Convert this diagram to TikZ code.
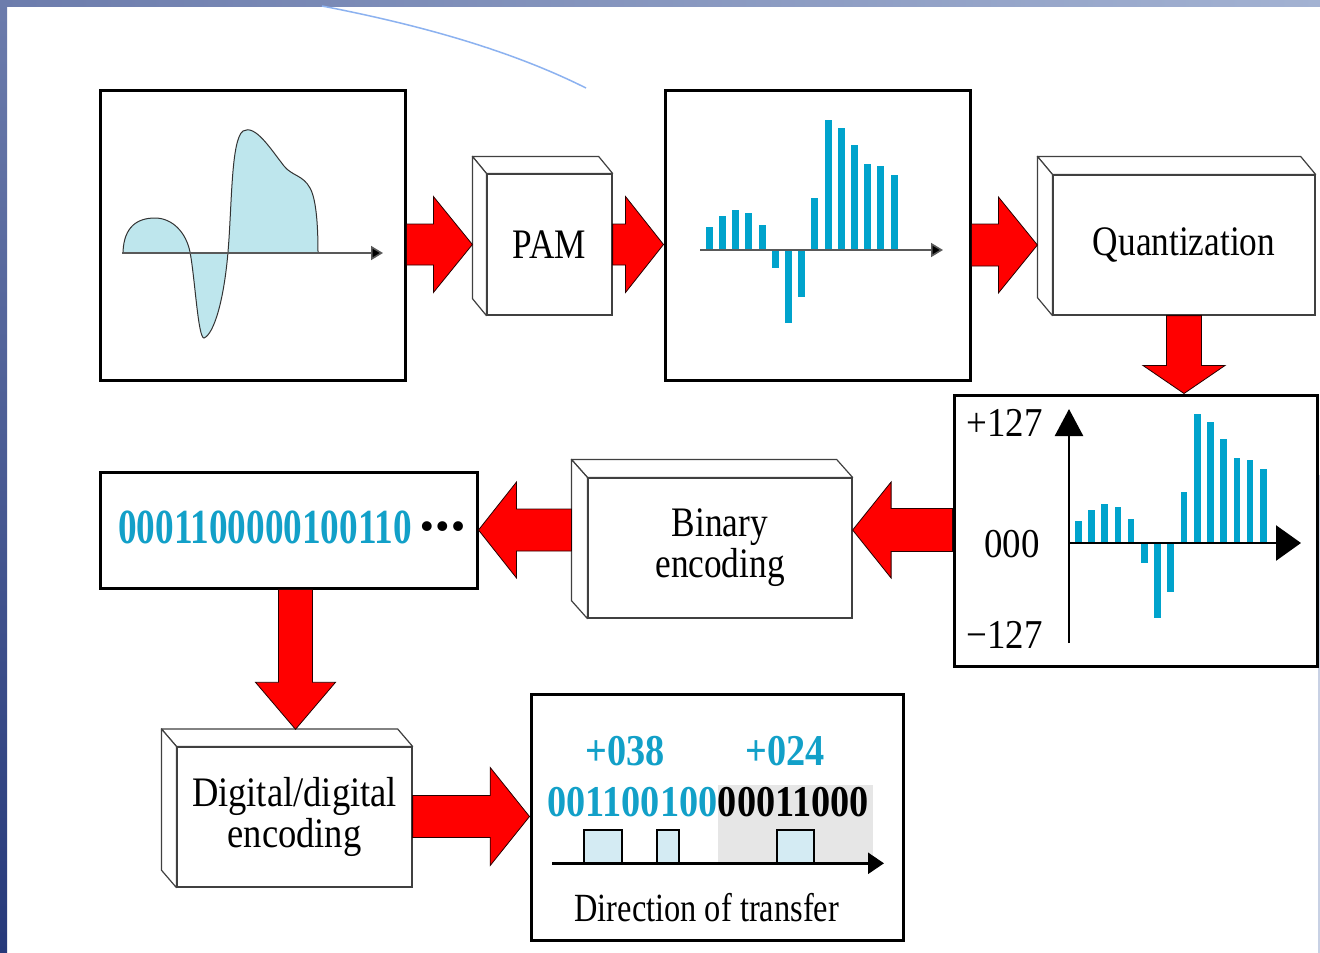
\documentclass[tikz,border=0pt]{standalone}
\usepackage{fontspec}
\setmainfont{Liberation Serif}
\newfontfamily\slabfont{Liberation Serif}[FakeStretch=0.84]
\newfontfamily\wideslabfont{Liberation Serif}[FakeStretch=0.87]
\newfontfamily\axisfont{Liberation Serif}[FakeStretch=0.90]
\newfontfamily\bitfont{Liberation Serif}[FakeStretch=0.76]
\newfontfamily\codefont{Liberation Serif}[FakeStretch=0.87]
\newfontfamily\capfont{Liberation Serif}[FakeStretch=0.81]
\usetikzlibrary{arrows.meta,calc}

\definecolor{barblue}{RGB}{0,163,204}
\definecolor{bitblue}{RGB}{18,160,200}
\definecolor{wavefill}{RGB}{190,230,237}
\definecolor{pulsefill}{RGB}{212,235,243}
\definecolor{bandtop}{RGB}{108,124,172}
\definecolor{bandbot}{RGB}{38,57,122}
\definecolor{bandright}{RGB}{163,178,210}
\definecolor{swoosh}{RGB}{140,178,240}
\definecolor{shadegray}{RGB}{230,230,230}

\tikzset{
  frame/.style={draw=black, line width=3pt, fill=white, inner sep=0pt},
  slabface/.style={draw=black!75, line width=1.2pt, fill=white, inner sep=0pt,
    font=\slabfont\fontsize{42}{41}\selectfont, align=center},
  slabedge/.style={draw=black!75, line width=1.2pt, fill=white, line join=round},
  redarrow/.style={fill=red, draw=black!85!red, line width=0.8pt, line join=miter},
  bar/.style={fill=barblue},
  thinaxis/.style={draw=black!65, line width=1.6pt, -{Triangle[length=12pt,width=14pt,fill=black]}},
}

% 3D slab: front face node plus top and left faces
% #1 name, #2 centre, #3 width, #4 height, #5 depth x, #6 depth y, #7 text
\newcommand\slab[7]{%
  \node[slabface, minimum width=#3, minimum height=#4] (#1) at (#2) {#7};
  \draw[slabedge] (#1.north west) -- ++(-#5,-#6) -- ($(#1.north east)+(-#5,-#6)$)
     -- (#1.north east) -- cycle;
  \draw[slabedge] (#1.north west) -- ++(-#5,-#6) -- ($(#1.south west)+(-#5,-#6)$)
     -- (#1.south west) -- cycle;
  \coordinate (#1-back) at ($(#1.west)+(-#5,0)$);
}

% block arrows: #1 start, #2 tip, #3 shaft half width, #4 head half width, #5 head length
\newcommand\rightarrowblock[5]{%
  \path[redarrow] let \p1=(#1), \p2=(#2) in
    (\x1,\y2+#3) -- (\x2-#5,\y2+#3) -- (\x2-#5,\y2+#4) -- (\x2,\y2)
    -- (\x2-#5,\y2-#4) -- (\x2-#5,\y2-#3) -- (\x1,\y2-#3) -- cycle;
}
\newcommand\leftarrowblock[5]{%
  \path[redarrow] let \p1=(#1), \p2=(#2) in
    (\x1,\y2+#3) -- (\x2+#5,\y2+#3) -- (\x2+#5,\y2+#4) -- (\x2,\y2)
    -- (\x2+#5,\y2-#4) -- (\x2+#5,\y2-#3) -- (\x1,\y2-#3) -- cycle;
}
\newcommand\downarrowblock[5]{%
  \path[redarrow] let \p1=(#1), \p2=(#2) in
    (\x2-#3,\y1) -- (\x2-#3,\y2+#5) -- (\x2-#4,\y2+#5) -- (\x2,\y2)
    -- (\x2+#4,\y2+#5) -- (\x2+#3,\y2+#5) -- (\x2+#3,\y1) -- cycle;
}

\begin{document}
\begin{tikzpicture}[x=1pt, y=-1pt]
\useasboundingbox (0,0) rectangle (1320,953);
\fill[white] (0,0) rectangle (1320,953);

% slide decoration
\shade[top color=bandtop, bottom color=bandbot] (0,0) rectangle (7,953);
\shade[left color=bandtop, right color=bandright] (0,0) rectangle (1320,6);
\draw[swoosh, line width=1.5pt] (322,6) .. controls (420,25) and (510,50) .. (586,88);
\draw[bandright!60, line width=1.2pt] (1319,475) -- (1319,953);

% ---------- analog signal ----------
\node[frame, minimum width=305, minimum height=290] (analog) at (252.5,235) {};
\fill[wavefill] (123,252) .. controls (124,226) and (138,218) .. (155,218)
  .. controls (172,218) and (186,232) .. (190,252)
  .. controls (195,278) and (198,338) .. (204,338)
  .. controls (214,334) and (224,300) .. (228,252)
  .. controls (232,205) and (231,140) .. (243,131)
  .. controls (255,124) and (270,148) .. (284,166)
  .. controls (292,176) and (303,175) .. (310,188)
  .. controls (317,200) and (318,232) .. (318,252) -- cycle;
\draw[black!80, line width=1pt] (123,252) .. controls (124,226) and (138,218) .. (155,218)
  .. controls (172,218) and (186,232) .. (190,252)
  .. controls (195,278) and (198,338) .. (204,338)
  .. controls (214,334) and (224,300) .. (228,252)
  .. controls (232,205) and (231,140) .. (243,131)
  .. controls (255,124) and (270,148) .. (284,166)
  .. controls (292,176) and (303,175) .. (310,188)
  .. controls (317,200) and (318,232) .. (318,252);
\coordinate (anaxis) at (122,253);
\coordinate (anaxisend) at (383,253);
\draw[thinaxis] (anaxis) -- (anaxisend);

% ---------- PAM ----------
\slab{pam}{549.5,244.5}{125}{141}{14}{17}{PAM}

% ---------- sampled signal ----------
\node[frame, minimum width=305, minimum height=290] (samples) at (817.5,235) {};
\foreach \v [count=\i from 0] in {227.3,216,210,213,225,268.3,323.3,297.3,198.3,120,128.3,145,164,166,175}
  \fill[bar] ({709.3+13.2*\i-3.5},250) rectangle ({709.3+13.2*\i+3.5},\v);
\coordinate (saxis) at (700,250);
\coordinate (saxisend) at (943,250);
\draw[thinaxis] (saxis) -- (saxisend);

% ---------- Quantization ----------
\slab{quant}{1184,245}{262}{140}{15}{18}{Quantization}

% ---------- quantized signal ----------
\node[frame, minimum width=363, minimum height=271] (levels) at (1135.5,530.5) {};
\foreach \v [count=\i from 0] in {521,510,504,506.7,519.3,563.3,617.7,591.7,491.7,414,422.3,439,457.7,460.3,469}
  \fill[bar] ({1078.3+13.21*\i-3.3},543) rectangle ({1078.3+13.21*\i+3.3},\v);
\coordinate (qorigin) at (1069,543);
\coordinate (qbottom) at (1069,643);
\coordinate (qtop) at (1069,409);
\coordinate (qright) at (1301,543);
\draw[line width=2.6pt, -{Triangle[length=27pt,width=28pt]}] (qbottom) -- (qtop);
\draw[line width=2.6pt, -{Triangle[length=25pt,width=35pt]}] (qorigin) -- (qright);
\node[anchor=base east, font=\axisfont\fontsize{41}{41}\selectfont, inner sep=0pt] (lvlhi) at (1043,436.7) {+127};
\node[anchor=base east, font=\axisfont\fontsize{41}{41}\selectfont, inner sep=0pt] (lvlmid) at (1040,557) {000};
\node[anchor=base east, font=\axisfont\fontsize{41}{41}\selectfont, inner sep=0pt] (lvllo) at (1043,648) {−127};

% ---------- Binary encoding ----------
\slab{binenc}{720,548}{264}{140}{16}{18}{Binary\\encoding}

% ---------- bit stream ----------
\node[frame, minimum width=377, minimum height=116] (bits) at (288.5,530) {};
\node[anchor=base west, inner sep=0pt, text=bitblue, font=\bitfont\bfseries\fontsize{49}{49}\selectfont] (bitstr) at (118,543.3) {0001100000100110};
\node[inner sep=0pt, font=\bfseries\fontsize{36}{36}\selectfont] (dots) at (442.5,530) {•\hspace{3pt}•\hspace{3pt}•};

% ---------- Digital/digital encoding ----------
\slab{digenc}{294.5,817}{235}{140}{15}{17.5}{\wideslabfont Digital/digital\\\wideslabfont encoding}

% ---------- transmitted signal ----------
\node[frame, minimum width=372, minimum height=246] (line) at (717,817) {};
\fill[shadegray] (717.7,785) rectangle (873,863);
\node[anchor=base east, inner sep=0pt, text=bitblue, font=\codefont\bfseries\fontsize{44}{44}\selectfont] (codea) at (717.7,816.7) {001100100};
\node[anchor=base west, inner sep=0pt, text=black, font=\codefont\bfseries\fontsize{44}{44}\selectfont] (codeb) at (717.7,816.7) {00011000};
\node[anchor=base, inner sep=0pt, text=bitblue, font=\codefont\bfseries\fontsize{44}{44}\selectfont] (vala) at (625,765) {+038};
\node[anchor=base, inner sep=0pt, text=bitblue, font=\codefont\bfseries\fontsize{44}{44}\selectfont] (valb) at (785,765) {+024};
\foreach \a/\b in {584.3/622.3, 656.7/679, 776.7/814.3}
  \draw[fill=pulsefill, line width=2.2pt] (\a,863.3) rectangle (\b,830);
\coordinate (taxis) at (552,863.3);
\coordinate (taxisend) at (884,863.3);
\draw[line width=2.6pt, -{Triangle[length=16pt,width=21pt]}] (taxis) -- (taxisend);
\node[anchor=base, inner sep=0pt, font=\capfont\fontsize{40}{40}\selectfont] (dirlabel) at (706.7,921.7) {Direction of transfer};

% ---------- flow arrows ----------
\coordinate (row2) at (0,530);
\coordinate (row3) at (0,816.5);
\coordinate (a1s) at (analog.east |- pam.center);
\rightarrowblock{a1s}{pam-back}{20.5}{48}{39}
\coordinate (a2s) at (pam.east);
\coordinate (a2e) at (samples.west |- pam.center);
\rightarrowblock{a2s}{a2e}{20.5}{48}{38}
\coordinate (a3s) at (samples.east |- quant.center);
\rightarrowblock{a3s}{quant-back}{21}{48}{39}
\coordinate (a4e) at (levels.north -| quant.center);
\downarrowblock{quant.south}{a4e}{17.5}{41}{28}
\coordinate (a5s) at (levels.west |- row2);
\coordinate (a5e) at (binenc.east |- row2);
\leftarrowblock{a5s}{a5e}{21.5}{48}{38.5}
\coordinate (a6s) at (binenc-back |- row2);
\coordinate (a6e) at (bits.east |- row2);
\leftarrowblock{a6s}{a6e}{21}{48}{38}
\coordinate (a7s) at (bits.south -| 295.5,0);
\coordinate (a7e) at (295.5,729.3);
\downarrowblock{a7s}{a7e}{17}{40}{47}
\coordinate (a8s) at (digenc.east |- row3);
\coordinate (a8e) at (line.west |- row3);
\rightarrowblock{a8s}{a8e}{21}{49}{39.3}
\end{tikzpicture}
\end{document}
